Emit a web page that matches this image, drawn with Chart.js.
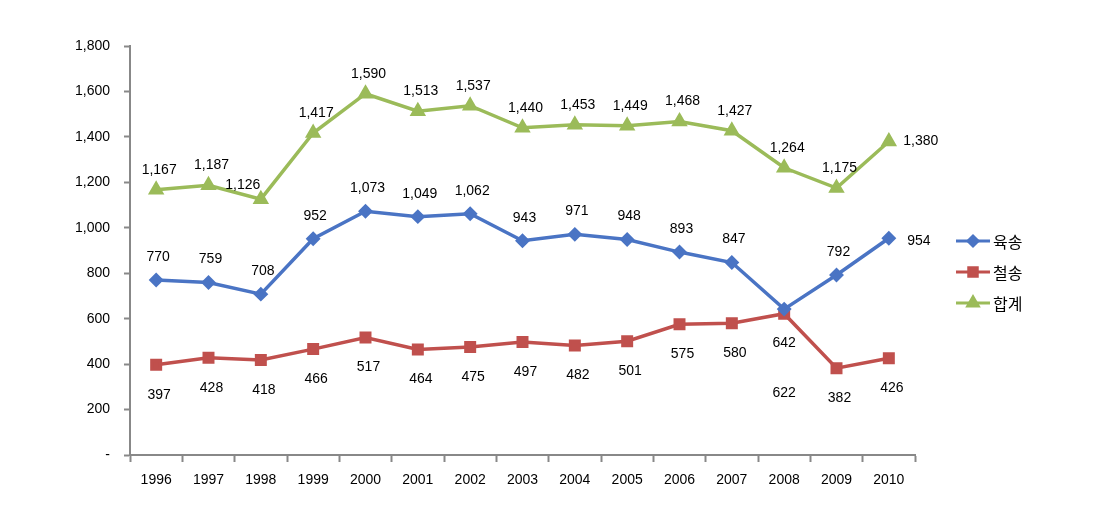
<!DOCTYPE html>
<html lang="ko">
<head>
<meta charset="UTF-8">
<title>육송 / 철송 추이</title>
<script src="https://cdn.jsdelivr.net/npm/chart.js"></script>
<style>
  body { margin: 0; background: #fff; }
  #wrap { width: 1102px; height: 509px; }
</style>
</head>
<body>
<div id="wrap"><canvas id="chart" width="1102" height="509"></canvas></div>
<script>
const years = ['1996','1997','1998','1999','2000','2001','2002','2003','2004','2005','2006','2007','2008','2009','2010'];
const road  = [770, 759, 708, 952, 1073, 1049, 1062, 943, 971, 948, 893, 847, 642, 792, 954];
const rail  = [397, 428, 418, 466, 517, 464, 475, 497, 482, 501, 575, 580, 622, 382, 426];
const total = [1167, 1187, 1126, 1417, 1590, 1513, 1537, 1440, 1453, 1449, 1468, 1427, 1264, 1175, 1380];

// label offsets (dx, dy) per point, in pixels
const roadLabelPos  = years.map((y, i) => i === 14 ? [30, 3] : (i === 12 ? [0, 34] : [2, -23]));
const railLabelPos  = years.map((y, i) => i === 12 ? [0, 79] : [3, 30]);
const totalLabelPos = years.map((y, i) => i === 14 ? [32, 0] : (i === 2 ? [-18, -14] : [3, -20]));

const numFamily = '"Liberation Sans", "DejaVu Sans", sans-serif';
const fmt = v => v === 0 ? '-' : v.toLocaleString('en-US');

const labelPlugin = {
  id: 'pointLabels',
  afterDatasetsDraw(chart) {
    const ctx = chart.ctx;
    const offsets = [roadLabelPos, railLabelPos, totalLabelPos];
    ctx.save();
    ctx.font = '14px ' + numFamily;
    ctx.fillStyle = '#000';
    ctx.textAlign = 'center';
    ctx.textBaseline = 'middle';
    chart.data.datasets.forEach((ds, di) => {
      chart.getDatasetMeta(di).data.forEach((pt, i) => {
        const o = offsets[di][i];
        ctx.fillText(fmt(ds.data[i]), pt.x + o[0], pt.y + o[1]);
      });
    });
    ctx.restore();
  }
};

const legendPlugin = {
  id: 'sideLegend',
  afterDraw(chart) {
    const ctx = chart.ctx;
    ctx.save();
    chart.data.datasets.forEach((ds, di) => {
      const y = 241 + di * 31;
      const x = 956;
      ctx.strokeStyle = ds.borderColor;
      ctx.lineWidth = 3;
      ctx.beginPath();
      ctx.moveTo(x, y);
      ctx.lineTo(x + 34, y);
      ctx.stroke();
      ctx.fillStyle = ds.borderColor;
      ctx.strokeStyle = ds.borderColor;
      Chart.helpers.drawPoint(ctx, {
        pointStyle: ds.pointStyle, radius: ds.pointRadius, rotation: 0, borderWidth: 1
      }, x + 17, y);
      ctx.fillStyle = '#000';
      ctx.font = '16px "Noto Sans CJK KR", sans-serif';
      ctx.textAlign = 'left';
      ctx.textBaseline = 'middle';
      ctx.fillText(ds.label, x + 37, y + 1);
    });
    ctx.restore();
  }
};

new Chart(document.getElementById('chart'), {
  type: 'line',
  data: {
    labels: years,
    datasets: [
      { label: '육송', data: road, borderColor: '#4a74c4', backgroundColor: '#4a74c4',
        borderWidth: 3.5, pointStyle: 'rectRot', pointRadius: 5, tension: 0 },
      { label: '철송', data: rail, borderColor: '#c0504d', backgroundColor: '#c0504d',
        borderWidth: 3.5, pointStyle: 'rect', pointRadius: 6, tension: 0 },
      { label: '합계', data: total, borderColor: '#9bbb59', backgroundColor: '#9bbb59',
        borderWidth: 3.5, pointStyle: 'triangle', pointRadius: 6, tension: 0 }
    ]
  },
  options: {
    responsive: false,
    animation: false,
    devicePixelRatio: 1,
    layout: { padding: { left: 50, right: 187, top: 46, bottom: 14 } },
    plugins: { legend: { display: false }, tooltip: { enabled: false } },
    scales: {
      x: {
        offset: true,
        afterFit: axis => { axis.height = 40; },
        grid: { display: true, drawOnChartArea: false, offset: true, tickLength: 7, tickColor: '#888', tickWidth: 2 },
        border: { color: '#888', width: 2 },
        ticks: { color: '#000', font: { size: 14, family: numFamily }, maxRotation: 0, padding: 10 }
      },
      y: {
        min: 0, max: 1800,
        afterFit: axis => { axis.width = 80; },
        grid: { display: true, drawOnChartArea: false, tickLength: 6, tickColor: '#888', tickWidth: 2 },
        border: { color: '#888', width: 2 },
        ticks: {
          stepSize: 200, color: '#000', padding: 14,
          font: { size: 14, family: numFamily },
          callback: v => fmt(v)
        }
      }
    }
  },
  plugins: [labelPlugin, legendPlugin]
});
</script>
</body>
</html>
